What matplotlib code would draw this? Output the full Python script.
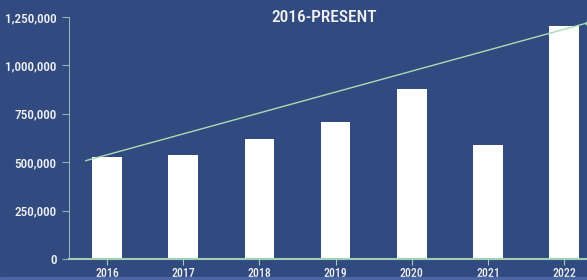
import matplotlib.pyplot as plt
from matplotlib.ticker import FuncFormatter

years = ['2016', '2017', '2018', '2019', '2020', '2021', '2022']
values = [525000, 539000, 620000, 708000, 878000, 590000, 1202000]
trend_x = [-0.28, 6.3]
trend_y = [508000, 1219000]

bg = '#314a80'
axis_col = '#9fd0b4'
text_col = '#f2f2f2'

plt.rcParams['font.family'] = ['Roboto Condensed', 'DejaVu Sans']
plt.rcParams['font.weight'] = 500

fig = plt.figure(figsize=(5.87, 2.80), dpi=100)
fig.patch.set_facecolor(bg)
# lighter strip at the bottom
fig.patches.append(plt.Rectangle((0, 0), 1, 3 / 280, transform=fig.transFigure,
                                 color='#4a67a3', zorder=0))

ax = fig.add_axes([69 / 587, 21 / 280, 1 - 69 / 587, 242 / 280])
ax.set_facecolor(bg)

x = list(range(len(years)))
ax.bar(x, values, width=0.39, color='white', zorder=2)
ax.plot(trend_x, trend_y, color='#a8dcb4', linewidth=1, zorder=3)
ax.plot(trend_x[1], trend_y[1], 'o', color='#a8dcb4', markersize=2, zorder=3)

ax.set_xlim(-0.5, 6.3)
ax.set_ylim(0, 1250000)
ax.set_yticks([0, 250000, 500000, 750000, 1000000, 1250000])
ax.yaxis.set_major_formatter(FuncFormatter(lambda v, p: f'{int(v):,}'))
ax.set_xticks(x)
ax.set_xticklabels(years)

for s in ['top', 'right']:
    ax.spines[s].set_visible(False)
ax.spines['left'].set_color('#8fb7b8')
ax.spines['bottom'].set_color(axis_col)
ax.spines['bottom'].set_linewidth(1.5)
ax.spines['bottom'].set_zorder(4)
ax.tick_params(axis='y', colors='#8fb7b8', labelcolor=text_col, length=5, labelsize=9.5, pad=4)
ax.tick_params(axis='x', colors=axis_col, labelcolor=text_col, length=4.5, labelsize=8.5, pad=1.5)

fig.text(324 / 587, 1 - 18 / 280, '2016-PRESENT', color=text_col, fontsize=12.5,
         ha='center', va='center')

fig.savefig('out.png', dpi=100, facecolor=bg)
